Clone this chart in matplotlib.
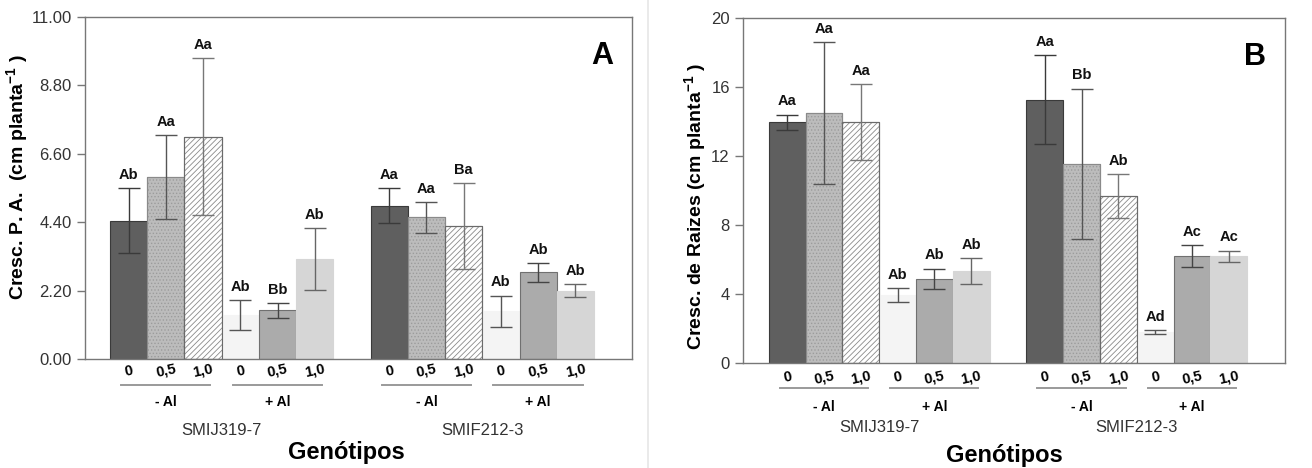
import matplotlib
matplotlib.use("Agg")
import matplotlib.pyplot as plt
from matplotlib import font_manager
import numpy as np

# ---------------- data ----------------
genotypes = ["SMIJ319-7", "SMIF212-3"]
al_groups = ["- Al", "+ Al"]
doses = ["0", "0,5", "1,0"]

# Panel A: shoot growth (cm planta-1), order per genotype: -Al(0,0.5,1.0), +Al(0,0.5,1.0)
a_smij = [4.45, 5.86, 7.15, 1.41, 1.56, 3.21]
a_smij_err = [1.05, 1.35, 2.53, 0.49, 0.25, 1.00]
a_smif = [4.93, 4.56, 4.28, 1.54, 2.79, 2.20]
a_smif_err = [0.57, 0.50, 1.38, 0.50, 0.30, 0.20]
a_letters_smij = ["Ab", "Aa", "Aa", "Ab", "Bb", "Ab"]
a_letters_smif = ["Aa", "Aa", "Ba", "Ab", "Ab", "Ab"]

# Panel B: root growth (cm planta-1)
b_smij = [13.95, 14.49, 13.97, 3.94, 4.87, 5.35]
b_smij_err = [0.45, 4.13, 2.20, 0.42, 0.60, 0.75]
b_smif = [15.27, 11.56, 9.68, 1.80, 6.18, 6.18]
b_smif_err = [2.60, 4.35, 1.26, 0.12, 0.64, 0.33]
b_letters_smij = ["Aa", "Aa", "Aa", "Ab", "Ab", "Ab"]
b_letters_smif = ["Aa", "Bb", "Ab", "Ad", "Ac", "Ac"]

a_ticks = [0.00, 2.20, 4.40, 6.60, 8.80, 11.00]
b_ticks = [0, 4, 8, 12, 16, 20]

# ---------------- style ----------------
avail = {f.name for f in font_manager.fontManager.ttflist}
narrow = "Liberation Sans Narrow" if "Liberation Sans Narrow" in avail else "Liberation Sans"
plt.rcParams["font.family"] = [narrow, "DejaVu Sans"]
plt.rcParams["hatch.linewidth"] = 0.6
plt.rcParams["mathtext.fontset"] = "custom"
plt.rcParams["mathtext.rm"] = "Liberation Sans"
plt.rcParams["mathtext.bf"] = "Liberation Sans:bold"
plt.rcParams["mathtext.default"] = "bf"

face = ["#5f5f5f", "#bcbcbc", "#ffffff", "#f4f4f4", "#ababab", "#d6d6d6"]
edge = ["#3a3a3a", "#8a8a8a", "#6a6a6a", "#f4f4f4", "#707070", "#d6d6d6"]
hatch = [None, ".....", "//////", None, None, None]
hatch_col = [None, "#9c9c9c", "#8a8a8a", None, None, None]
err_col = ["#3a3a3a", "#555555", "#777777", "#555555", "#444444", "#666666"]

fig = plt.figure(figsize=(13.12, 4.68), dpi=100)
fig.add_artist(plt.Line2D([648 / 1312, 648 / 1312], [0, 1], color="#e6e6e6", lw=1.2))

def panel(rect, v1, e1, v2, e2, l1, l2, ticks, ylim, tickfmt, ylabel, letter,
          xlim, offs):
    ax = fig.add_axes(rect)
    pos1 = np.arange(6)
    pos2 = np.arange(6) + 7
    for pos, vals, errs, lets in [(pos1, v1, e1, l1), (pos2, v2, e2, l2)]:
        for i in range(6):
            ax.bar(pos[i], vals[i], width=1.0, color=face[i], edgecolor=edge[i],
                   linewidth=0.8, zorder=2)
            if hatch[i]:
                ax.bar(pos[i], vals[i], width=1.0, color="none",
                       edgecolor=hatch_col[i], linewidth=0, hatch=hatch[i], zorder=2.5)
                ax.bar(pos[i], vals[i], width=1.0, color="none",
                       edgecolor=edge[i], linewidth=0.8, zorder=2.6)
            ax.errorbar(pos[i], vals[i], yerr=errs[i], fmt="none", ecolor=err_col[i],
                        elinewidth=1.0, capsize=8, capthick=1.0, zorder=3)
            ax.text(pos[i], vals[i] + errs[i] + ylim * 0.018, lets[i], ha="center",
                    va="bottom", fontsize=10.5, fontweight="bold", color="#111111")
    ax.set_xlim(*xlim)
    ax.set_ylim(0, ylim)
    ax.set_yticks(ticks)
    ax.set_yticklabels([tickfmt.format(t) for t in ticks], fontsize=12, color="#333333")
    ax.set_xticks([])
    for s in ax.spines.values():
        s.set_color("#777777")
        s.set_linewidth(1.0)
    ax.tick_params(axis="y", direction="out", length=6, color="#777777", width=1)
    ax.set_ylabel(ylabel, fontsize=14, fontweight="bold", family=["Liberation Sans", "DejaVu Sans"])
    ax.yaxis.set_label_coords(offs["labx"], offs["laby"])
    ax.text(0.965, 0.93, letter, transform=ax.transAxes, ha="right", va="top",
            fontsize=22, fontweight="bold", family=["Liberation Sans", "DejaVu Sans"])
    tr = ax.get_xaxis_transform()
    for gpos, gname in [(pos1, genotypes[0]), (pos2, genotypes[1])]:
        for k in range(6):
            ax.text(gpos[k], offs["tick"], doses[k % 3], transform=tr, ha="center",
                    va="center", fontsize=10.5, fontweight="bold", rotation=12,
                    clip_on=False)
        for j in range(2):
            c = gpos[3 * j + 1]
            ax.plot([c - 1.2, c + 1.2], [offs["line"]] * 2, transform=tr,
                    color="#9a9a9a", lw=1.4, clip_on=False)
            ax.text(c, offs["al"], al_groups[j], transform=tr, ha="center",
                    va="center", fontsize=10, fontweight="bold", clip_on=False)
        ax.text(gpos[2] + 0.5, offs["gen"], gname, transform=tr, ha="center",
                va="center", fontsize=12, color="#333333", clip_on=False)
    ax.text(offs["genx"], offs["genot"], "Genótipos", transform=ax.transAxes,
            ha="center", va="center", fontsize=17, fontweight="bold",
            family=["Liberation Sans", "DejaVu Sans"], clip_on=False)
    return ax

panel([85 / 1312, 1 - 359 / 468, 547 / 1312, 342 / 468],
      a_smij, a_smij_err, a_smif, a_smif_err, a_letters_smij, a_letters_smif,
      a_ticks, 11.0, "{:.2f}", "Cresc. P. A.  (cm planta$^{-1}$ )", "A",
      (-1.17, 13.52),
      dict(tick=-0.035, line=-0.076, al=-0.126, gen=-0.208, genot=-0.272,
           genx=0.478, labx=-0.1, laby=0.532))

panel([743 / 1312, 1 - 363 / 468, 542 / 1312, 345 / 468],
      b_smij, b_smij_err, b_smif, b_smif_err, b_letters_smij, b_letters_smif,
      b_ticks, 20.0, "{:.0f}", "Cresc. de Raizes (cm planta$^{-1}$ )", "B",
      (-1.2, 13.53),
      dict(tick=-0.041, line=-0.072, al=-0.128, gen=-0.186, genot=-0.267,
           genx=0.483, labx=-0.065, laby=0.455))

fig.savefig("out.png", dpi=100)
